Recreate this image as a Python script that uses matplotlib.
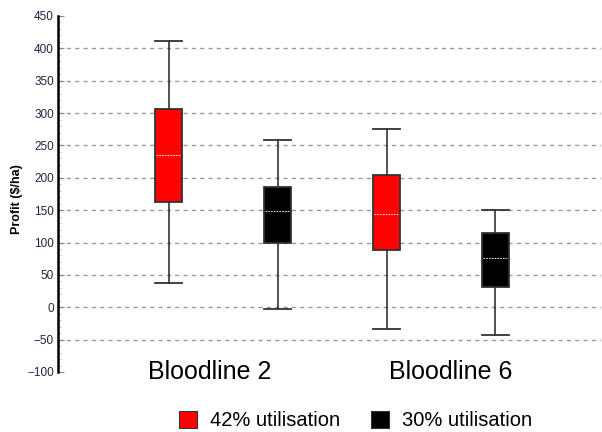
import matplotlib
matplotlib.use("Agg")
import matplotlib.pyplot as plt
from matplotlib.patches import Rectangle
from matplotlib.ticker import MultipleLocator

plt.rcParams['font.family'] = ['Liberation Sans', 'DejaVu Sans']

# box statistics: lower whisker, Q1, median, Q3, upper whisker
groups = ["Bloodline 2", "Bloodline 6"]
series = ["42% utilisation", "30% utilisation"]
colors = ["#ff0000", "#000000"]
lo_whisk = [[37, -33], [-2, -43]]
q1 = [[162, 88], [100, 32]]
medians = [[235, 144], [148, 76]]
q3 = [[307, 204], [186, 115]]
hi_whisk = [[412, 276], [259, 150]]

fig = plt.figure(figsize=(6.02, 4.32), dpi=100)
ax = fig.add_axes([58 / 602, 60 / 432, 543 / 602, 356 / 432])

box_w = 0.243
cap_w = 0.25
for s in range(len(series)):
    for g in range(len(groups)):
        x = g * 2 + s
        # whiskers and caps
        ax.plot([x, x], [lo_whisk[s][g], q1[s][g]], color="#222222", lw=1.1, zorder=3)
        ax.plot([x, x], [q3[s][g], hi_whisk[s][g]], color="#222222", lw=1.1, zorder=3)
        for v in (lo_whisk[s][g], hi_whisk[s][g]):
            ax.plot([x - cap_w / 2, x + cap_w / 2], [v, v], color="#333333", lw=1.3, zorder=3)
        # box
        ax.add_patch(Rectangle((x - box_w / 2, q1[s][g]), box_w, q3[s][g] - q1[s][g],
                               facecolor=colors[s], edgecolor="#333333", lw=1.3, zorder=4))
        # median line
        ax.plot([x - box_w / 2 + 0.01, x + box_w / 2 - 0.01], [medians[s][g]] * 2,
                color="#dddddd", lw=0.8, ls=(0, (1.5, 1)), zorder=5)

ax.set_xlim(-1.014, 3.968)
ax.set_ylim(-100, 450)
ax.yaxis.set_major_locator(MultipleLocator(50))
ax.yaxis.set_minor_locator(MultipleLocator(10))
# dashed gridlines only between the axis ends
for v in range(-50, 450, 50):
    ax.axhline(v, color="#999999", ls=(0, (3, 3)), lw=1, zorder=1)
for side in ("top", "right", "bottom"):
    ax.spines[side].set_visible(False)
ax.spines["left"].set_linewidth(1.8)
ax.set_xticks([])
ax.tick_params(axis="y", which="major", direction="in", length=4, color="#888888",
               labelsize=8.5, labelcolor="#222244", pad=3)
ax.tick_params(axis="y", which="minor", direction="in", length=2.5, width=0.6, color="#bbbbbb")
ax.set_ylabel("Profit ($/ha)", fontsize=9, fontweight="bold")
ax.yaxis.set_label_coords(-0.064, 0.485)

# category labels under each pair
label_x = [0.38, 2.59]
for lx, name in zip(label_x, groups):
    ax.text(lx, -81, name, fontsize=18, ha="center", va="top")

# legend along the bottom
legend_x = [179 / 602, 371 / 602]
for lx, name, c in zip(legend_x, series, colors):
    fig.patches.append(Rectangle((lx, 4 / 432), 18 / 602, 17 / 432, transform=fig.transFigure,
                                 facecolor=c, edgecolor="#333333", lw=0.8))
    fig.text(lx + 31 / 602, 12 / 432, name, fontsize=14.5, va="center", ha="left")

fig.savefig("out.png", dpi=100)
